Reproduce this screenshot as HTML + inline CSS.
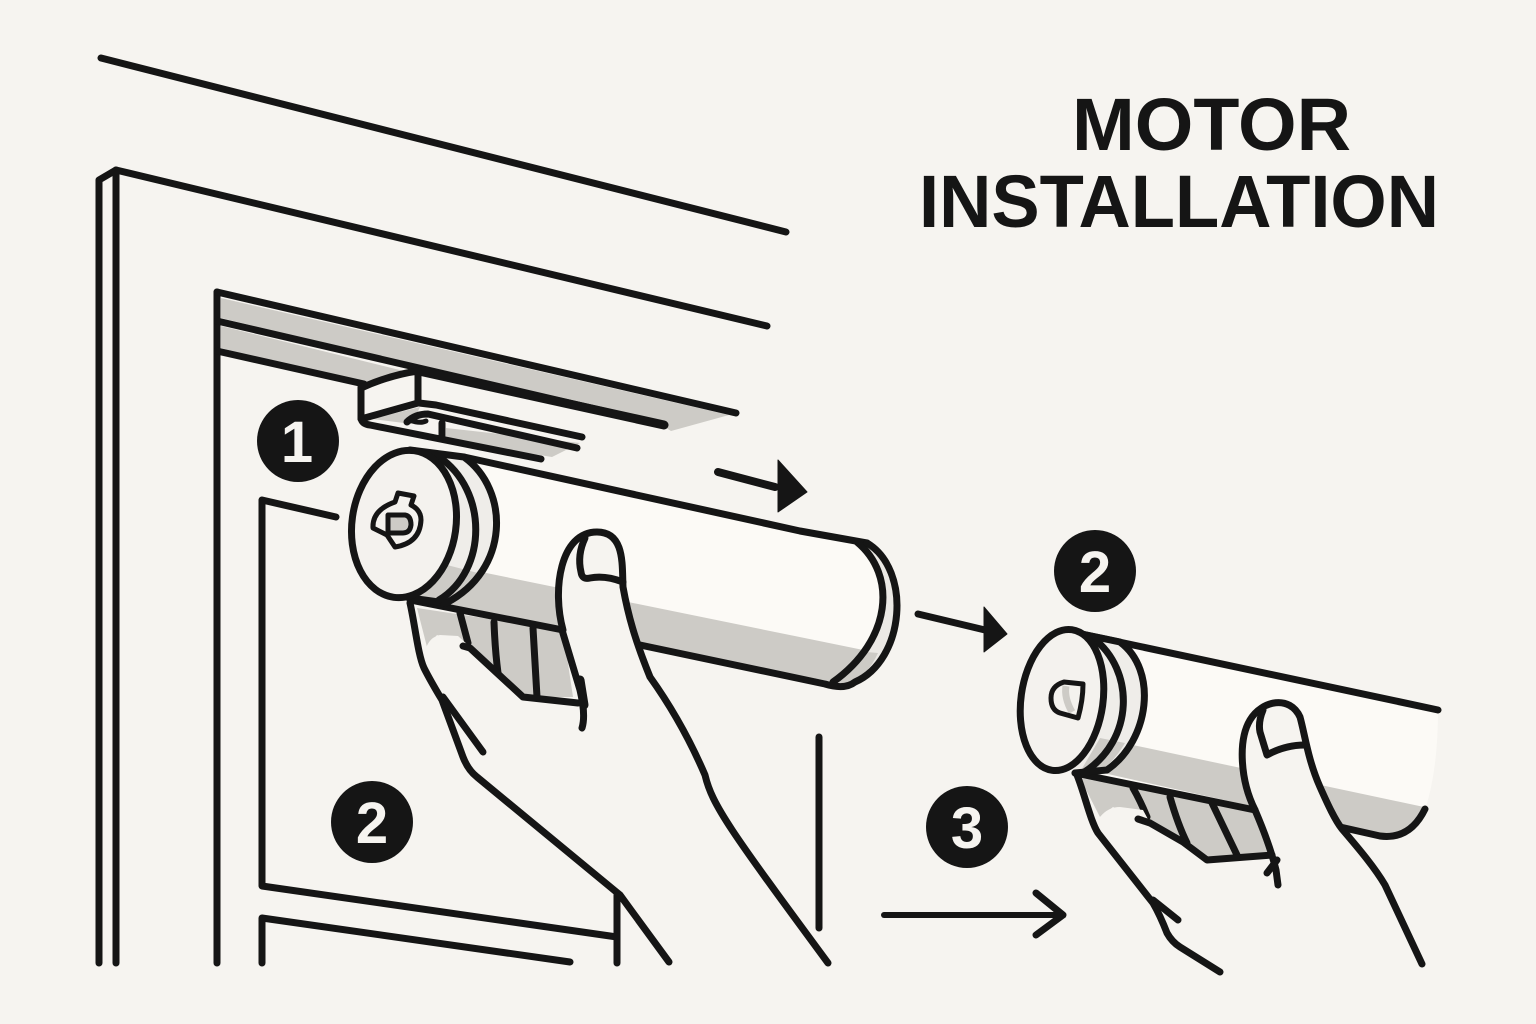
<!DOCTYPE html>
<html lang="en"><head><meta charset="utf-8"><title>Motor Installation</title>
<style>html,body{margin:0;padding:0;background:#f6f4f0}svg{display:block}</style></head>
<body>
<svg width="1536" height="1024" viewBox="0 0 1536 1024" xmlns="http://www.w3.org/2000/svg">
<rect width="1536" height="1024" fill="#f6f4f0"/>
<g fill="none" stroke="#151515" stroke-width="7" stroke-linecap="round" stroke-linejoin="round">

<!-- frame -->
<path d="M101 58L786 232"/>
<path d="M99 963V180L116 170L767 326"/>
<path d="M116 170V963"/>
<path d="M217 963V292"/>
<path d="M336 517L262 500V886L617 937"/>
<path d="M617 895V963"/>
<path d="M262 963V918L570 962"/>
<path d="M819 737V928"/>

<!-- rail -->
<g stroke="none" fill="#cdcbc6">
<path d="M221 298L729 415L671 431L660 424L221 318Z"/>
<path d="M221 326L408 372L362 386L221 348Z"/>
<path d="M446 428L580 443L552 457L446 440Z"/>
<path d="M372 419L420 407L412 424Z"/>
</g>
<path d="M217 292L736 413"/>
<path d="M217 321L664 425"/>
<path d="M419 371L664 425" stroke-width="9"/>
<path d="M217 351L364 384"/>
<path d="M361 388Q390 375 418 371V403L361 419V387"/>
<path d="M361 418Q362 424 370 425L541 459"/>
<path d="M419 403L436 405L582 437"/>
<path d="M577 448L428 414Q415 414 407 422"/>
<path d="M442 423V437"/>
<path d="M410 420Q420 424 426 421" stroke-width="5"/>

<!-- main roller body -->
<path d="M410 450L857 542C897 575 892 640 833 682L410 600Z" fill="#fcfaf6" stroke="none"/>
<path d="M447 565L878 653Q860 675 833 682L420 600Z" fill="#cdcbc6" stroke="none"/>
<path d="M860 543L867 543C912 570 905 660 855 682L833 682C892 640 897 575 857 542Z" fill="#ebe9e5" stroke="none"/>
<path d="M855 651L878 653Q868 675 850 684L833 682Z" fill="#cdcbc6" stroke="none"/>
<!-- curtain -->
<path d="M417 608L563 630L573 697L523 697L497 673L463 645L437 635L427 647Z" fill="#cdcbc6" stroke="none"/>
<path d="M464 457L800 531L867 543"/>
<path d="M857 542C897 575 892 640 833 682"/>
<path d="M867 543C912 570 905 660 855 682Q845 690 825 684L640 645"/>
<path d="M410 600L563 630"/>
<path d="M460 613L468 643"/>
<path d="M494 622Q495 650 498 673"/>
<path d="M533 628Q535 660 537 697"/>

<!-- caps -->
<path d="M410 450L464 457C505 490 505 570 446 603L405 597Z" fill="#efede9" stroke="none"/>
<path d="M447 565L478 573Q465 595 446 603L415 598Z" fill="#cdcbc6" stroke="none"/>
<path d="M410 450L464 457C510 490 510 570 446 603L410 598"/>
<path d="M439 457C488 490 488 570 439 600"/>
<ellipse cx="404" cy="524" rx="52" ry="74" transform="rotate(8 404 524)" fill="#f4f2ee"/>
<path d="M398 493L414 496L411 505Q421 510 421 520Q420 543 395 547L387 535L373 528Q372 510 395 502Z" stroke-width="5"/>
<path d="M388 515H405Q411 516 411 525Q410 533 403 533H388Z" stroke-width="5" fill="#cdcbc6"/>

<!-- main hand -->
<path d="M563 630C552 590 560 532 597 532C625 532 622 565 623 587C628 615 635 640 650 677C670 705 690 740 705 775C712 805 730 830 828 963L669 962L620 895L477 777Q468 770 463 757L442 700Q436 690 424 668L426 648Q430 637 440 635L458 636L468 645L497 673L523 697L578 703L580 690Z" fill="#f6f4f0" stroke="none"/>
<path d="M463 646L470 648L497 673L523 697L578 703"/>
<path d="M410 603C415 625 418 655 424 668C430 680 436 690 442 700L463 757Q468 770 477 777L620 895L669 962"/>
<path d="M443 697L483 752"/>
<path d="M563 630C552 590 560 532 597 532C625 532 622 565 623 587C628 615 635 640 650 677C670 705 690 740 705 775C712 805 730 830 828 963"/>
<path d="M562 630L580 690Q586 715 582 728"/>
<path d="M580 680L584 705" stroke-width="9"/>
<path d="M585 538Q577 555 581 572Q582 580 590 578Q605 575 623 582"/>

<!-- second roller -->
<path d="M1072 632L1438 710Q1438 770 1425 810Q1405 840 1380 836L1075 773Z" fill="#fcfaf6" stroke="none"/>
<path d="M1100 738L1424 807Q1405 838 1385 836L1090 770Z" fill="#cdcbc6" stroke="none"/>
<path d="M1080 778L1257 810L1272 853L1207 860L1183 840L1140 820L1113 807L1100 817Z" fill="#cdcbc6" stroke="none"/>
<path d="M1072 632L1438 710"/>
<path d="M1075 773L1255 810"/>
<path d="M1340 827L1380 836Q1410 840 1425 809"/>
<path d="M1133 788Q1140 800 1147 817"/>
<path d="M1170 797Q1178 825 1187 843"/>
<path d="M1212 803Q1225 830 1237 855"/>
<path d="M1072 632L1120 641C1160 680 1150 740 1100 772L1075 775Z" fill="#efede9" stroke="none"/>
<path d="M1100 738L1125 743Q1115 760 1100 772L1080 772Z" fill="#cdcbc6" stroke="none"/>
<path d="M1072 632L1120 642C1158 670 1150 740 1107 770L1075 773"/>
<path d="M1093 638C1135 670 1135 740 1083 773"/>
<ellipse cx="1062" cy="700" rx="41" ry="71" transform="rotate(8 1062 700)" fill="#f4f2ee"/>
<path d="M1066 686Q1064 698 1072 712" fill="none" stroke="#cdcbc6" stroke-width="7" stroke-linecap="butt"/>
<path d="M1083 684L1064 682Q1051 686 1051 698Q1051 710 1060 713L1078 718Q1083 700 1083 684Z" stroke-width="5"/>

<!-- second hand -->
<path d="M1255 810C1240 780 1238 740 1250 720C1262 700 1290 695 1300 717C1305 735 1308 760 1320 787C1328 805 1335 820 1342 829C1360 850 1375 868 1385 885L1422 964L1220 972L1180 947Q1172 942 1167 933Q1160 915 1153 903L1098 833Q1092 822 1100 817Q1108 807 1120 807L1143 810L1150 823L1183 842L1207 860L1272 855Z" fill="#f6f4f0" stroke="none"/>
<path d="M1138 819L1150 823L1183 842L1207 860L1272 855"/>
<path d="M1077 775C1085 795 1090 820 1098 833L1153 903Q1160 915 1167 933Q1172 942 1180 947L1220 972"/>
<path d="M1153 900L1178 920"/>
<path d="M1255 810C1240 780 1238 740 1250 720C1262 700 1290 695 1300 717C1305 735 1308 760 1320 787C1328 805 1335 820 1342 829C1360 850 1375 868 1385 885L1422 964"/>
<path d="M1255 810Q1270 845 1276 870L1278 885"/>
<path d="M1267 873L1277 860"/>
<path d="M1263 710Q1258 722 1260 732L1267 755Q1285 745 1305 745"/>

<!-- arrows -->
<path d="M718 472L775 487" stroke-width="8"/>
<path d="M778 460L807 492L778 512Z" fill="#151515" stroke-width="1"/>
<path d="M918 614L985 630" stroke-width="7"/>
<path d="M984 607L1007 634L984 652Z" fill="#151515" stroke-width="1"/>
<path d="M884 915H1062" stroke-width="6"/>
<path d="M1036 893L1063 915L1036 935"/>
</g>

<!-- badges -->
<g fill="#151515">
<circle cx="298" cy="441" r="41"/>
<circle cx="1095" cy="571" r="41"/>
<circle cx="372" cy="822" r="41"/>
<circle cx="967" cy="827" r="41"/>
</g>
<g fill="#f6f4f0" font-family="'Liberation Sans', sans-serif" font-weight="700" font-size="58" text-anchor="middle">
<text x="297" y="462">1</text>
<text x="1095" y="592">2</text>
<text x="372" y="843">2</text>
<text x="967" y="848">3</text>
</g>

<!-- title -->
<g fill="#151515" font-family="'Liberation Sans', sans-serif" font-weight="700" font-size="74">
<text x="1072" y="150" textLength="279" lengthAdjust="spacingAndGlyphs">MOTOR</text>
<text x="919" y="227" textLength="520" lengthAdjust="spacingAndGlyphs">INSTALLATION</text>
</g>
</svg>
</body></html>
